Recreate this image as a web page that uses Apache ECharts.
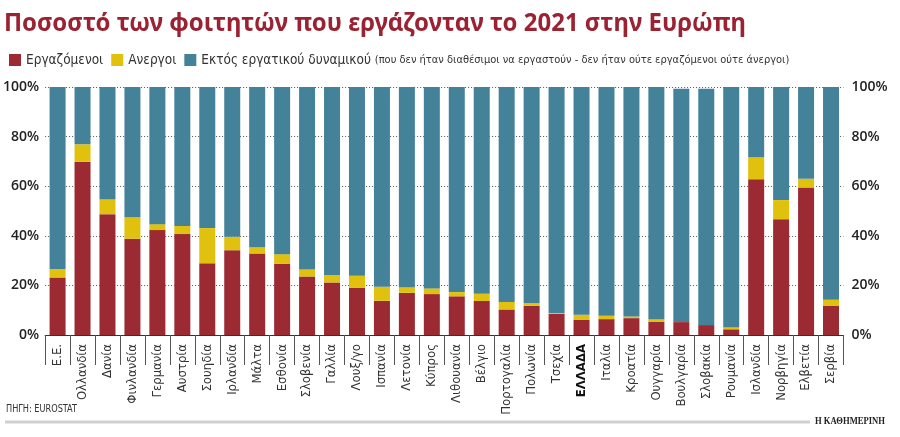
<!DOCTYPE html>
<html><head><meta charset="utf-8">
<script src="https://cdn.jsdelivr.net/npm/echarts@6/dist/echarts.min.js"></script>
<style>html,body{margin:0;padding:0;background:#fff}#c{width:900px;height:437px}</style>
</head><body><div id="c"></div>
<script>
const categories = ['Ε.Ε.','Ολλανδία','Δανία','Φινλανδία','Γερμανία','Αυστρία','Σουηδία','Ιρλανδία','Μάλτα','Εσθονία','Σλοβενία','Γαλλία','Λουξ/γο','Ισπανία','Λετονία','Κύπρος','Λιθουανία','Βέλγιο','Πορτογαλία','Πολωνία','Τσεχία','ΕΛΛΑΔΑ','Ιταλία','Κροατία','Ουγγαρία','Βουλγαρία','Σλοβακία','Ρουμανία','Ισλανδία','Νορβηγία','Ελβετία','Σερβία'];
const employed   = [23.2,69.8,48.7,38.8,42.3,40.7,28.9,34.2,32.9,28.7,23.6,21.2,19.1,13.8,17.0,16.5,15.6,13.7,10.3,11.8,8.5,6.2,6.4,6.8,5.4,5.2,4.0,2.3,62.8,46.7,59.5,11.7];
const unemployed = [3.4,7.1,5.9,8.7,2.4,3.3,14.2,5.4,2.5,3.9,2.8,3.0,4.8,5.7,2.3,2.3,1.7,2.9,3.0,1.1,0.4,2.0,1.4,0.7,0.8,0,0,0.7,8.9,7.7,3.5,2.5];
const outside    = [73.4,23.1,45.4,52.5,55.3,56.0,56.9,60.4,64.6,67.4,73.6,75.8,76.1,80.5,80.7,81.2,82.7,83.4,86.7,87.1,91.1,91.8,92.2,92.5,93.8,94.1,95.3,97.0,28.3,45.6,37.0,85.8];
const seriesNames = ['Εργαζόμενοι','Ανεργοι','Εκτός εργατικού δυναμικού'];
const legendNote = '(που δεν ήταν διαθέσιμοι να εργαστούν - δεν ήταν ούτε εργαζόμενοι ούτε άνεργοι)';
const titleText = 'Ποσοστό των φοιτητών που εργάζονταν το 2021 στην Ευρώπη';
const sourceText = 'ΠΗΓΗ: EUROSTAT';
const brandText = 'Η ΚΑΘΗΜΕΡΙΝΗ';

const NARROW = '"Liberation Sans Narrow","DejaVu Sans Condensed","Arial Narrow",sans-serif';
const COLORS = ['#9b2a33','#dfc10e','#44829a'];
const measureCtx = document.createElement('canvas').getContext('2d');
function fitScale(text, font, target){
  measureCtx.font = font;
  return target / measureCtx.measureText(text).width;
}
const titleFont = 'bold 25px "Noto Sans","Open Sans",sans-serif';
const sourceFont = '10px ' + NARROW;
const brandFont = 'bold 11px "Liberation Serif",serif';

function scaledText(x, y, text, font, width, fill){
  return {type:'text', x:x, y:y, scaleX:fitScale(text, font, width), silent:true,
    style:{text:text, font:font, fill:fill, align:'left', verticalAlign:'middle'}};
}

const chart = echarts.init(document.getElementById('c'), null, {renderer:'canvas'});
const yAxisBase = {
  type:'value', min:0, max:100, interval:20,
  axisLine:{show:false}, axisTick:{show:false},
  axisLabel:{formatter:'{value}%', fontFamily:'"Open Sans",sans-serif', fontWeight:600, fontSize:14, color:'#222'}
};
chart.setOption({
  animation:false,
  backgroundColor:'#fff',
  color:COLORS,
  grid:{left:43.5, right:56.5, top:87, bottom:102, containLabel:false},
  legend:{
    left:4, top:48, itemWidth:12, itemHeight:12, itemGap:8, icon:'rect',
    selectedMode:false,
    data:seriesNames,
    textStyle:{fontFamily:NARROW, fontSize:13.5, color:'#333',
      rich:{n:{fontFamily:NARROW, fontSize:11, color:'#333'}}},
    formatter:function(name){ return name===seriesNames[2] ? name + ' {n|' + legendNote + '}' : name; }
  },
  xAxis:{
    type:'category', data:categories,
    axisLine:{lineStyle:{color:'#333', width:1}},
    axisTick:{show:true, interval:0, length:30, lineStyle:{color:'#555'}},
    axisLabel:{interval:0, rotate:90, margin:9, fontFamily:NARROW, fontSize:13, color:'#333',
      formatter:function(v){ return v==='ΕΛΛΑΔΑ' ? '{b|'+v+'}' : v; },
      rich:{b:{fontFamily:NARROW, fontSize:13, fontWeight:'bold', color:'#111'}}}
  },
  yAxis:[
    Object.assign({}, yAxisBase, {position:'left', axisLabel:Object.assign({}, yAxisBase.axisLabel, {margin:6}),
      splitLine:{show:true, lineStyle:{color:'#555', type:[1,2], width:1}}}),
    Object.assign({}, yAxisBase, {position:'right', axisLabel:Object.assign({}, yAxisBase.axisLabel, {margin:8}),
      splitLine:{show:false}})
  ],
  series:[
    {name:seriesNames[0], type:'bar', stack:'s', barWidth:16, data:employed},
    {name:seriesNames[1], type:'bar', stack:'s', barWidth:16, data:unemployed},
    {name:seriesNames[2], type:'bar', stack:'s', barWidth:16, data:outside}
  ],
  graphic:[
    scaledText(4, 23.5, titleText, titleFont, 742, '#9b2232'),
    scaledText(6, 409, sourceText, sourceFont, 71, '#333'),
    {type:'rect', silent:true, shape:{x:5, y:420.5, width:805, height:3}, style:{fill:'#d0d0d0'}},
    scaledText(815, 421, brandText, brandFont, 70, '#222')
  ]
});
</script></body></html>
